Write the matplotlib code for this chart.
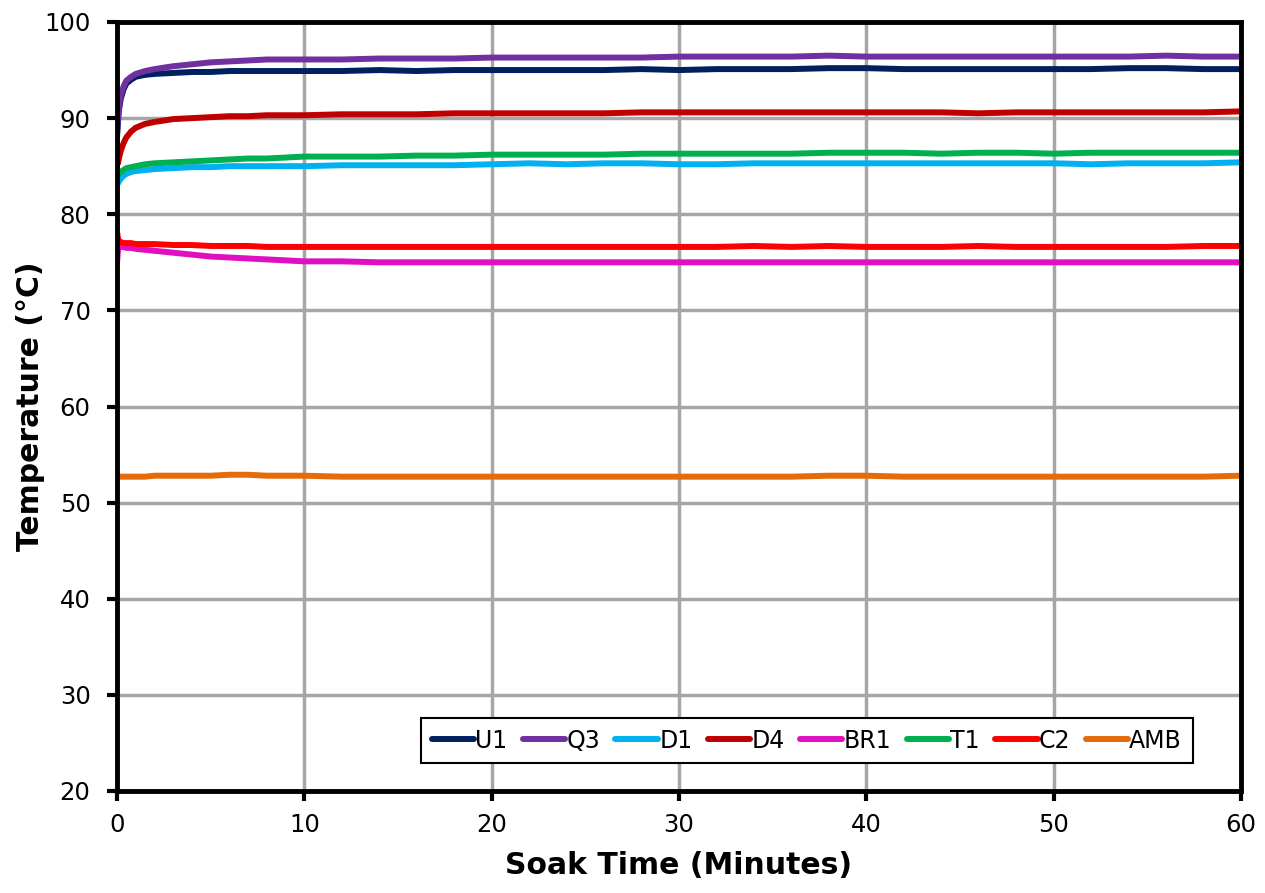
import matplotlib
matplotlib.use('Agg')
import matplotlib.pyplot as plt

# soak time (minutes)
t = [0, 0.05, 0.1, 0.2, 0.35, 0.5, 0.75, 1, 1.5, 2, 3, 4, 5, 6, 7, 8,
     10, 12, 14, 16, 18, 20, 22, 24, 26, 28, 30, 32, 34, 36, 38, 40,
     42, 44, 46, 48, 50, 52, 54, 56, 58, 60]

U1 = [88.0, 89.5, 90.8, 92.0, 93.0, 93.6, 94.0, 94.3, 94.5, 94.6, 94.7, 94.8, 94.8, 94.9, 94.9, 94.9,
      94.9, 94.9, 95.0, 94.9, 95.0, 95.0, 95.0, 95.0, 95.0, 95.1, 95.0, 95.1, 95.1, 95.1, 95.2, 95.2,
      95.1, 95.1, 95.1, 95.1, 95.1, 95.1, 95.2, 95.2, 95.1, 95.1]
Q3 = [88.5, 90.0, 91.2, 92.4, 93.3, 93.9, 94.3, 94.6, 94.9, 95.1, 95.4, 95.6, 95.8, 95.9, 96.0, 96.1,
      96.1, 96.1, 96.2, 96.2, 96.2, 96.3, 96.3, 96.3, 96.3, 96.3, 96.4, 96.4, 96.4, 96.4, 96.5, 96.4,
      96.4, 96.4, 96.4, 96.4, 96.4, 96.4, 96.4, 96.5, 96.4, 96.4]
D1 = [83.6, 83.2, 83.4, 83.7, 84.0, 84.2, 84.4, 84.5, 84.6, 84.7, 84.8, 84.9, 84.9, 85.0, 85.0, 85.0,
      85.0, 85.1, 85.1, 85.1, 85.1, 85.2, 85.3, 85.2, 85.3, 85.3, 85.2, 85.2, 85.3, 85.3, 85.3, 85.3,
      85.3, 85.3, 85.3, 85.3, 85.3, 85.2, 85.3, 85.3, 85.3, 85.4]
D4 = [87.4, 85.3, 85.8, 86.6, 87.4, 88.0, 88.6, 89.0, 89.4, 89.6, 89.9, 90.0, 90.1, 90.2, 90.2, 90.3,
      90.3, 90.4, 90.4, 90.4, 90.5, 90.5, 90.5, 90.5, 90.5, 90.6, 90.6, 90.6, 90.6, 90.6, 90.6, 90.6,
      90.6, 90.6, 90.5, 90.6, 90.6, 90.6, 90.6, 90.6, 90.6, 90.7]
BR1 = [74.9, 76.2, 76.6, 76.6, 76.6, 76.5, 76.5, 76.4, 76.3, 76.2, 76.0, 75.8, 75.6, 75.5, 75.4, 75.3,
       75.1, 75.1, 75.0, 75.0, 75.0, 75.0, 75.0, 75.0, 75.0, 75.0, 75.0, 75.0, 75.0, 75.0, 75.0, 75.0,
       75.0, 75.0, 75.0, 75.0, 75.0, 75.0, 75.0, 75.0, 75.0, 75.0]
T1 = [84.9, 84.1, 84.2, 84.4, 84.6, 84.8, 84.9, 85.0, 85.2, 85.3, 85.4, 85.5, 85.6, 85.7, 85.8, 85.8,
      86.0, 86.0, 86.0, 86.1, 86.1, 86.2, 86.2, 86.2, 86.2, 86.3, 86.3, 86.3, 86.3, 86.3, 86.4, 86.4,
      86.4, 86.3, 86.4, 86.4, 86.3, 86.4, 86.4, 86.4, 86.4, 86.4]
C2 = [78.2, 77.5, 77.2, 77.1, 77.0, 77.0, 77.0, 76.9, 76.9, 76.9, 76.8, 76.8, 76.7, 76.7, 76.7, 76.6,
      76.6, 76.6, 76.6, 76.6, 76.6, 76.6, 76.6, 76.6, 76.6, 76.6, 76.6, 76.6, 76.7, 76.6, 76.7, 76.6,
      76.6, 76.6, 76.7, 76.6, 76.6, 76.6, 76.6, 76.6, 76.7, 76.7]
AMB = [52.7, 52.7, 52.7, 52.7, 52.7, 52.7, 52.7, 52.7, 52.7, 52.8, 52.8, 52.8, 52.8, 52.9, 52.9, 52.8,
       52.8, 52.7, 52.7, 52.7, 52.7, 52.7, 52.7, 52.7, 52.7, 52.7, 52.7, 52.7, 52.7, 52.7, 52.8, 52.8,
       52.7, 52.7, 52.7, 52.7, 52.7, 52.7, 52.7, 52.7, 52.7, 52.8]

series = [('U1', U1, '#002060'), ('Q3', Q3, '#7030A0'), ('D1', D1, '#00B0F0'),
          ('D4', D4, '#C00000'), ('BR1', BR1, '#E010C0'), ('T1', T1, '#00B050'),
          ('C2', C2, '#FF0000'), ('AMB', AMB, '#E46C0A')]

fig = plt.figure(figsize=(12.65, 8.93), dpi=100)
ax = fig.add_axes([117/1265, 1 - 791/893, (1241-117)/1265, (791-22)/893])

for name, vals, col in series:
    ax.plot(t, vals, color=col, lw=4.3, label=name, solid_capstyle='round')

ax.set_xlim(0, 60)
ax.set_ylim(20, 100)
ax.set_xticks(range(0, 61, 10))
ax.set_yticks(range(20, 101, 10))
ax.grid(True, color='#A6A6A6', lw=2.5)
ax.set_axisbelow(True)
for s in ax.spines.values():
    s.set_linewidth(3.5)
ax.tick_params(direction='out', length=7, width=3, labelsize=17.5)
ax.tick_params(axis='y', pad=12)
ax.tick_params(axis='x', pad=9)

ax.set_xlabel('Soak Time (Minutes)', fontsize=21.5, fontweight='bold')
ax.set_ylabel('Temperature (°C)', fontsize=21.5, fontweight='bold')
ax.xaxis.set_label_coords(0.5, -0.078)
ax.yaxis.set_label_coords(-0.064, 0.5)

leg = ax.legend(loc='lower right', bbox_to_anchor=(0.957, 0.036), ncol=8, fontsize=17,
                handlelength=1.8, handletextpad=0.05, columnspacing=0.65,
                fancybox=False, edgecolor='black', framealpha=1, borderpad=0.45,
                borderaxespad=0)
leg.get_frame().set_linewidth(1.5)

plt.savefig('out.png', dpi=100)
plt.close()
